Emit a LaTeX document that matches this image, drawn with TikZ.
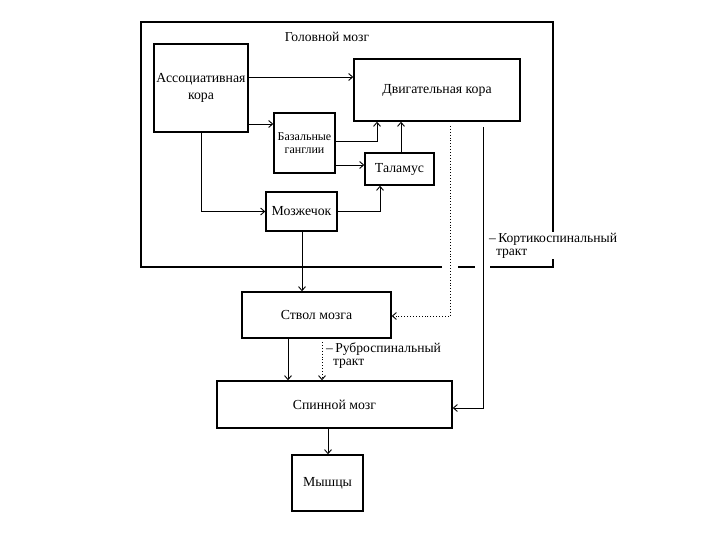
\documentclass[tikz,border=0pt]{standalone}
\usepackage{fontspec}
\setmainfont{Liberation Serif}
\usetikzlibrary{arrows.meta,calc}
\begin{document}
\begin{tikzpicture}[x=1pt,y=-1pt,
  box/.style={draw, line width=1.5pt, inner sep=0pt, align=center, font=\fontsize{13.8}{17}\selectfont},
  arr/.style={line width=0.9pt, -{Straight Barb[length=4pt,width=7pt]}},
  dotarr/.style={line width=0.9pt, dotted, -{Straight Barb[length=4pt,width=7pt]}},
  lbl/.style={inner sep=1pt, align=left, font=\fontsize{13.6}{12.5}\selectfont}]
\useasboundingbox (0,0) rectangle (720,540);
\fill[white] (0,0) rectangle (720,540);
% frame
\draw[line width=1.8pt] (442,267) -- (141,267) -- (141,22) -- (553,22) -- (553,267) -- (490,267);
\draw[line width=1.8pt] (458,267) -- (475,267);
\node[lbl] (head) at (327,37) {Головной мозг};
% boxes
\node[box, minimum width=94pt, minimum height=88pt] (assoc) at (201,88) {\raisebox{4pt}{\begin{tabular}{@{}c@{}}Ассоциативная\\кора\end{tabular}}};
\node[box, minimum width=166pt, minimum height=62pt] (motor) at (437,90) {\raisebox{3pt}{Двигательная кора}};
\node[box, minimum width=61pt, minimum height=60pt, font=\fontsize{12}{12.5}\selectfont] (basal) at (304.5,143) {Базальные\\ганглии};
\node[box, minimum width=69pt, minimum height=32pt] (thal) at (399.5,169) {Таламус};
\node[box, minimum width=71pt, minimum height=39pt] (cereb) at (301.5,211.5) {Мозжечок};
\node[box, minimum width=149pt, minimum height=46pt] (stem) at (316.5,315) {Ствол мозга};
\node[box, minimum width=235pt, minimum height=47pt] (spinal) at (334.5,404.5) {Спинной мозг};
\node[box, minimum width=71pt, minimum height=56pt] (muscles) at (327.5,483) {Мышцы};
% connectors
\draw[arr] (assoc.east |- 0,77) -- (motor.west |- 0,77);
\draw[arr] (assoc.east |- 0,124) -- (basal.west |- 0,124);
\draw[arr] (assoc.south) |- (cereb.west);
\draw[arr] (basal.east |- 0,141) -| (motor.south -| 377,0);
\draw[arr] (basal.east |- 0,165) -- (thal.west |- 0,165);
\draw[arr] (thal.north -| 401,0) -- (motor.south -| 401,0);
\draw[arr] (cereb.east) -| (thal.south -| 380,0);
\draw[arr] (cereb.south -| 302,0) -- (stem.north -| 302,0);
\coordinate (dtop) at (450,126);
\draw[dotarr] (dtop) |- (stem.east |- 0,316);
\coordinate (ctop) at (483,127);
\draw[arr] (ctop) |- (spinal.east |- 0,408);
\draw[arr] (stem.south -| 288,0) -- (spinal.north -| 288,0);
\coordinate (rtop) at (322,342);
\draw[dotarr] (rtop) -- (spinal.north -| 322,0);
\draw[arr] (spinal.south -| 328,0) -- (muscles.north -| 328,0);
% labels
\node[lbl, fill=white, anchor=north west] (cort) at (488,232) {–\,Кортикоспинальный\\\hspace{0.5em}тракт};
\node[lbl, anchor=north west] (rubro) at (325,342) {–\,Руброспинальный\\\hspace{0.5em}тракт};
\end{tikzpicture}
\end{document}
